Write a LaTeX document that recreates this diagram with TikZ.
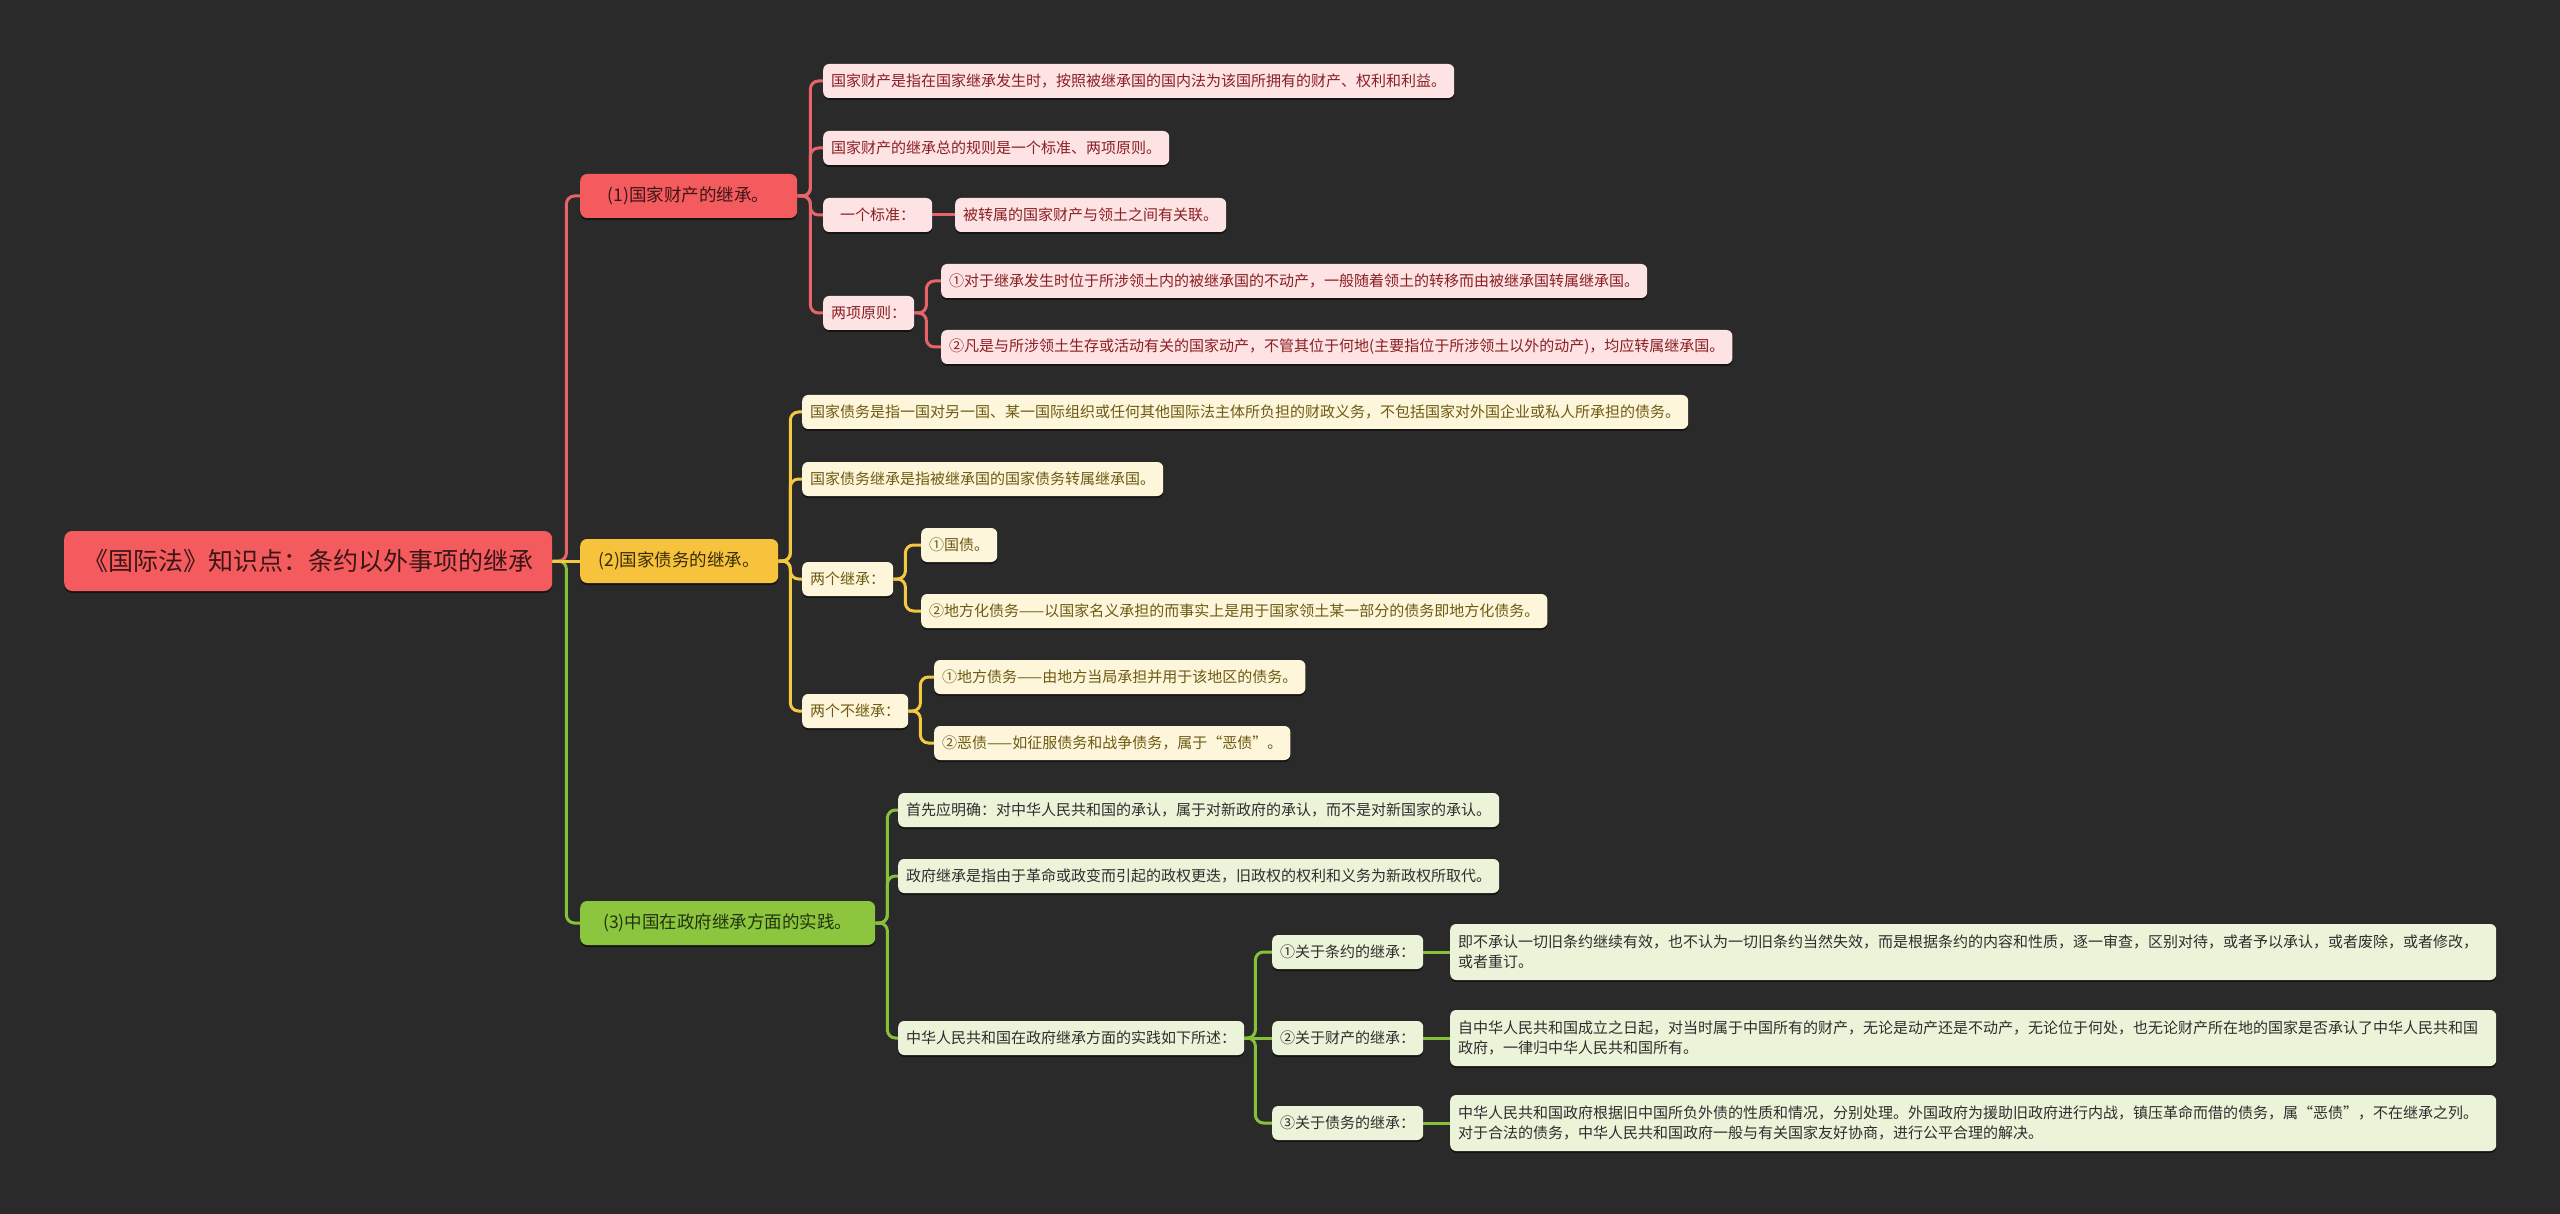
\documentclass[tikz,border=0pt]{standalone}
\usepackage{fontspec}
\newfontfamily\cjk{Noto Sans CJK SC}
\usetikzlibrary{backgrounds,shadows}

\definecolor{bgcol}{HTML}{2A2A2A}
\definecolor{rootred}{HTML}{F45B5E}
\definecolor{roottext}{HTML}{3C1616}
\definecolor{topicyel}{HTML}{F7C33C}
\definecolor{yeltext}{HTML}{3A2C06}
\definecolor{topicgrn}{HTML}{8CC63F}
\definecolor{grntext}{HTML}{24330C}
\definecolor{pinkfill}{HTML}{FDE3E3}
\definecolor{pinktext}{HTML}{8A1F24}
\definecolor{creamfill}{HTML}{FDF6DB}
\definecolor{creamtext}{HTML}{6E5A12}
\definecolor{greenfill}{HTML}{EBF3D8}
\definecolor{greentext}{HTML}{2E2E2E}
\definecolor{linered}{HTML}{E8646A}
\definecolor{lineyel}{HTML}{F5C842}
\definecolor{linegrn}{HTML}{86C13A}

\begin{document}
\begin{tikzpicture}[
  x=1pt, y=-1pt,
  box/.style={rounded corners=6pt, anchor=west, inner xsep=8pt, inner ysep=0pt,
    minimum height=34pt, font=\cjk\fontsize{15}{20}\selectfont,
    drop shadow={shadow xshift=0pt, shadow yshift=-2pt, fill=black, opacity=0.5}},
  pbox/.style={box, fill=pinkfill, text=pinktext},
  cbox/.style={box, fill=creamfill, text=creamtext},
  gbox/.style={box, fill=greenfill, text=greentext},
  wide/.style={text width=1030pt, align=left, minimum height=56pt},
  topic/.style={box, minimum height=44pt, rounded corners=7pt,
    font=\cjk\fontsize{17.5}{20}\selectfont},
  redlink/.style={draw=linered, line width=3pt, rounded corners=8pt},
  yellink/.style={draw=lineyel, line width=3pt, rounded corners=8pt},
  grnlink/.style={draw=linegrn, line width=3pt, rounded corners=8pt}
]
  \useasboundingbox (0,0) rectangle (2560,1214);

  % root
  \node[topic, fill=rootred, text=roottext, minimum width=488pt, minimum height=60pt,
    rounded corners=8pt, font=\cjk\fontsize{25}{30}\selectfont] (root) at (64,561)
    {《国际法》知识点：条约以外事项的继承};

  % --- branch (1): state property
  \node[topic, fill=rootred, text=roottext, minimum width=217pt] (prop) at (580,196)
    {(1)国家财产的继承。};
  \node[pbox] (propdef) at (823,81)
    {国家财产是指在国家继承发生时，按照被继承国的国内法为该国所拥有的财产、权利和利益。};
  \node[pbox] (proprule) at (823,148) {国家财产的继承总的规则是一个标准、两项原则。};
  \node[pbox, minimum width=109pt] (propstd) at (823,215) {一个标准：};
  \node[pbox] (propstdA) at (955,215) {被转属的国家财产与领土之间有关联。};
  \node[pbox] (proppri) at (823,313) {两项原则：};
  \node[pbox] (propA) at (941,281)
    {①对于继承发生时位于所涉领土内的被继承国的不动产，一般随着领土的转移而由被继承国转属继承国。};
  \node[pbox] (propB) at (941,347)
    {②凡是与所涉领土生存或活动有关的国家动产，不管其位于何地(主要指位于所涉领土以外的动产)，均应转属继承国。};

  % --- branch (2): state debts
  \node[topic, fill=topicyel, text=yeltext, minimum width=198pt] (debt) at (580,561)
    {(2)国家债务的继承。};
  \node[cbox] (debtdef) at (802,412)
    {国家债务是指一国对另一国、某一国际组织或任何其他国际法主体所负担的财政义务，不包括国家对外国企业或私人所承担的债务。};
  \node[cbox] (debtsuc) at (802,479) {国家债务继承是指被继承国的国家债务转属继承国。};
  \node[cbox] (debtyes) at (802,579) {两个继承：};
  \node[cbox] (debtyesA) at (921,545) {①国债。};
  \node[cbox] (debtyesB) at (921,611)
    {②地方化债务——以国家名义承担的而事实上是用于国家领土某一部分的债务即地方化债务。};
  \node[cbox] (debtno) at (802,711) {两个不继承：};
  \node[cbox] (debtnoA) at (934,677) {①地方债务——由地方当局承担并用于该地区的债务。};
  \node[cbox] (debtnoB) at (934,743) {②恶债——如征服债务和战争债务，属于“恶债”。};

  % --- branch (3): government succession
  \node[topic, fill=topicgrn, text=grntext, minimum width=295pt] (gov) at (580,923)
    {(3)中国在政府继承方面的实践。};
  \node[gbox] (govrec) at (898,810)
    {首先应明确：对中华人民共和国的承认，属于对新政府的承认，而不是对新国家的承认。};
  \node[gbox] (govdef) at (898,876)
    {政府继承是指由于革命或政变而引起的政权更迭，旧政权的权利和义务为新政权所取代。};
  \node[gbox] (govprc) at (898,1038) {中华人民共和国在政府继承方面的实践如下所述：};
  \node[gbox] (treaty) at (1272,952) {①关于条约的继承：};
  \node[gbox] (assets) at (1272,1038) {②关于财产的继承：};
  \node[gbox] (debts) at (1272,1123) {③关于债务的继承：};
  \node[gbox, wide] (treatyT) at (1450,952)
    {即不承认一切旧条约继续有效，也不认为一切旧条约当然失效，而是根据条约的内容和性质，逐一审查，区别对待，或者予以承认，或者废除，或者修改，\\或者重订。};
  \node[gbox, wide] (assetsT) at (1450,1038)
    {自中华人民共和国成立之日起，对当时属于中国所有的财产，无论是动产还是不动产，无论位于何处，也无论财产所在地的国家是否承认了中华人民共和国\\政府，一律归中华人民共和国所有。};
  \node[gbox, wide] (debtsT) at (1450,1123)
    {中华人民共和国政府根据旧中国所负外债的性质和情况，分别处理。外国政府为援助旧政府进行内战，镇压革命而借的债务，属“恶债”，不在继承之列。\\对于合法的债务，中华人民共和国政府一般与有关国家友好协商，进行公平合理的解决。};

  % connectors (background)
  \begin{scope}[on background layer]
    \fill[bgcol] (0,0) rectangle (2560,1214);
    \draw[redlink] (root.east) -- ++(14,0) |- (prop.west);
    \draw[grnlink] (root.east) -- ++(14,0) |- (gov.west);
    \draw[yellink] (root.east) -- (debt.west);

    \foreach \c in {propdef,proprule,propstd,proppri}
      \draw[redlink] (prop.east) -- ++(13,0) |- (\c.west);
    \draw[redlink] (propstd.east) -- (propstdA.west);
    \foreach \c in {propA,propB}
      \draw[redlink] (proppri.east) -- ++(12,0) |- (\c.west);

    \foreach \c in {debtdef,debtsuc,debtyes,debtno}
      \draw[yellink] (debt.east) -- ++(12,0) |- (\c.west);
    \foreach \c in {debtyesA,debtyesB}
      \draw[yellink] (debtyes.east) -- ++(12,0) |- (\c.west);
    \foreach \c in {debtnoA,debtnoB}
      \draw[yellink] (debtno.east) -- ++(12,0) |- (\c.west);

    \foreach \c in {govrec,govdef,govprc}
      \draw[grnlink] (gov.east) -- ++(12,0) |- (\c.west);
    \foreach \c in {treaty,debts}
      \draw[grnlink] (govprc.east) -- ++(11,0) |- (\c.west);
    \draw[grnlink] (govprc.east) -- (assets.west);
    \draw[grnlink] (treaty.east) -- (treatyT.west);
    \draw[grnlink] (assets.east) -- (assetsT.west);
    \draw[grnlink] (debts.east) -- (debtsT.west);
  \end{scope}
\end{tikzpicture}
\end{document}
